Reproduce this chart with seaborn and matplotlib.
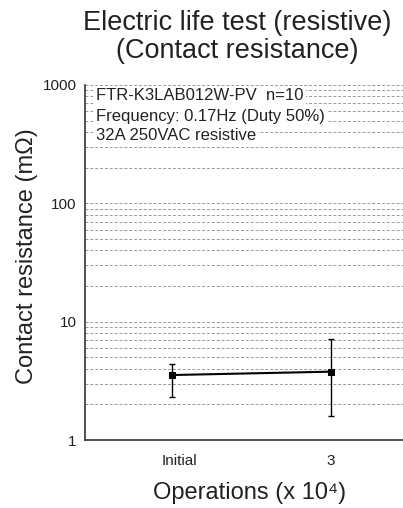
import matplotlib
matplotlib.use("Agg")
import matplotlib.pyplot as plt
import matplotlib.transforms as mtransforms
import seaborn as sns
import numpy as np
import pandas as pd

# Data
categories = ["Initial", "3"]
mean_values = [3.54, 3.78]
upper_values = [4.42, 7.18]
lower_values = [2.30, 1.60]
ytick_values = [1, 10, 100, 1000]
ytick_labels = ["1", "10", "100", "1000"]
info_lines = ["FTR-K3LAB012W-PV  n=10", "Frequency: 0.17Hz (Duty 50%)", "32A 250VAC resistive"]

sns.set_theme(style="white")
plt.rcParams['font.family'] = ['Liberation Sans', 'DejaVu Sans']

fig = plt.figure(figsize=(4.03, 5.08), dpi=100)
ax = fig.add_axes([85/403, 1-440/508, (410-85)/403, (440-85)/508])

df = pd.DataFrame({"x": np.arange(len(categories)), "y": mean_values})
sns.lineplot(data=df, x="x", y="y", ax=ax, color="black", linewidth=1.5,
             marker="s", markersize=5, markeredgecolor="black", zorder=4)
yerr = [np.array(mean_values) - np.array(lower_values),
        np.array(upper_values) - np.array(mean_values)]
ax.errorbar(df["x"], df["y"], yerr=yerr, fmt="none", ecolor="black",
            elinewidth=1.0, capsize=2.5, capthick=1.0, zorder=3)

ax.set_yscale("log")
ax.set_ylim(1, 1000)
ax.set_xlim(-0.547, 1.497)
ax.set_yticks(ytick_values)
ax.set_yticklabels(ytick_labels)
ax.yaxis.set_minor_formatter(matplotlib.ticker.NullFormatter())
ax.set_xticks(df["x"])
ax.set_xticklabels(categories)
ax.tick_params(axis="both", which="both", length=0, labelsize=11, colors="#222222", pad=6)
ax.tick_params(axis="x", pad=10)
# the "Initial" label sits slightly right of its point in the reference
first = ax.get_xticklabels()[0]
first.set_transform(first.get_transform() + mtransforms.ScaledTranslation(7/100, 0, fig.dpi_scale_trans))

ax.grid(True, which="both", axis="y", linestyle=(0, (3, 2)), color="#9a9a9a", linewidth=0.7)
ax.grid(False, axis="x")

for s in ["top", "right"]:
    ax.spines[s].set_visible(False)
for s in ["left", "bottom"]:
    ax.spines[s].set_color("#333333")
    ax.spines[s].set_linewidth(1.2)

ax.set_xlabel("")
ax.set_ylabel("")

fig.text(27/403, 1-256/508, "Contact resistance (m\u03a9)", rotation=90, ha="center", va="center",
         fontsize=17, color="#222222")
fig.text(250/403, 1-493/508, "Operations (x 10\u2074)", ha="center", va="center",
         fontsize=17, color="#222222")
fig.text(237/403, 1-23/508, "Electric life test (resistive)", ha="center", va="center",
         fontsize=19.5, color="#222222")
fig.text(237/403, 1-51/508, "(Contact resistance)", ha="center", va="center",
         fontsize=19.5, color="#222222")

ys = [95.5, 116.5, 136]
for line, yy in zip(info_lines, ys):
    fig.text(96/403, 1-yy/508, line, ha="left", va="center", fontsize=12, color="#222222",
             bbox=dict(facecolor="white", edgecolor="none", pad=1.5), zorder=5)

fig.savefig("out.png", dpi=100)
